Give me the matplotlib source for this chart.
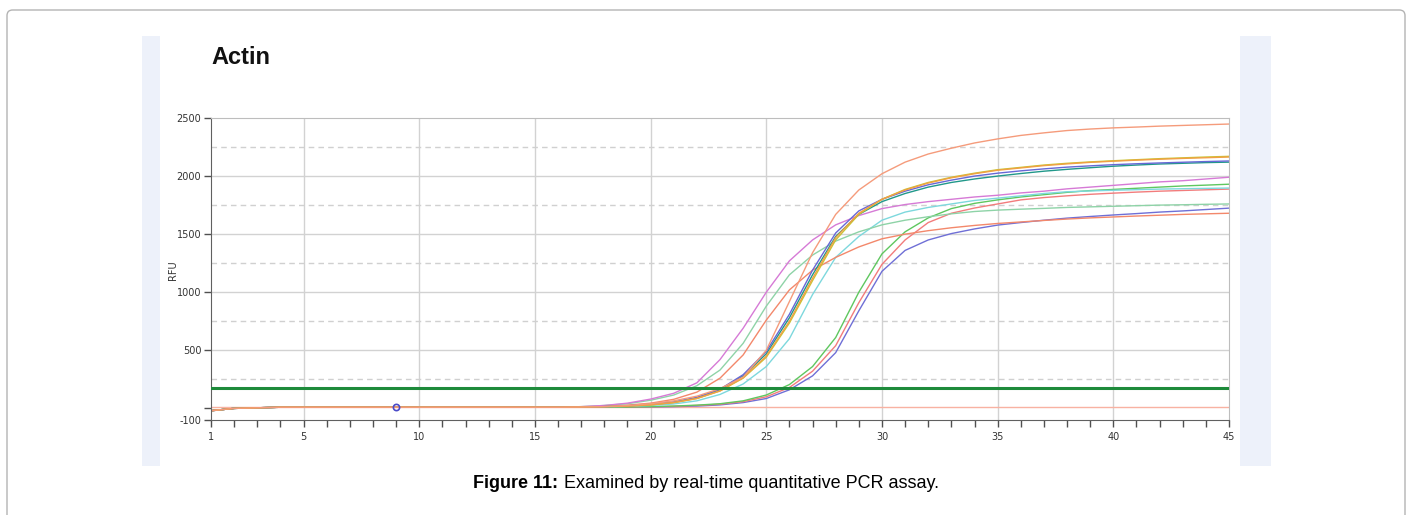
import matplotlib
matplotlib.use('Agg')
import matplotlib.pyplot as plt
from matplotlib.patches import Rectangle, FancyBboxPatch
import numpy as np

W, H = 1413, 515

cycles = np.arange(1, 46)
base = [-20, 0, 5, 10, 10, 10, 10, 10, 10, 10, 10, 10, 10, 10, 10, 10]

# amplification curves, RFU per cycle (cycles 17..45 after the flat baseline)
salmon_hi = base + [12, 15, 25, 40, 65, 105, 170, 270, 500, 920, 1340, 1670, 1880, 2020, 2120,
                    2190, 2240, 2285, 2320, 2350, 2372, 2392, 2405, 2415, 2422, 2430, 2436, 2442, 2448]
orange = base + [12, 15, 20, 30, 50, 85, 150, 265, 450, 750, 1120, 1470, 1680, 1800, 1880,
                 1940, 1985, 2020, 2050, 2070, 2090, 2105, 2118, 2128, 2137, 2145, 2152, 2158, 2164]
yellow = base + [12, 15, 20, 30, 50, 85, 150, 260, 440, 735, 1100, 1450, 1670, 1800, 1885,
                 1945, 1990, 2025, 2055, 2075, 2095, 2110, 2122, 2132, 2141, 2150, 2157, 2164, 2170]
blue = base + [12, 15, 22, 35, 55, 95, 165, 290, 490, 810, 1190, 1510, 1700, 1800, 1870,
               1925, 1965, 2000, 2025, 2045, 2062, 2077, 2088, 2098, 2106, 2113, 2119, 2125, 2130]
teal = base + [12, 15, 22, 33, 52, 90, 160, 280, 470, 780, 1150, 1480, 1670, 1780, 1850,
               1905, 1945, 1975, 2000, 2022, 2042, 2058, 2072, 2085, 2095, 2104, 2110, 2116, 2120]
magenta = base + [15, 25, 45, 80, 130, 220, 420, 690, 1000, 1270, 1450, 1580, 1660, 1720, 1755,
                  1780, 1800, 1820, 1835, 1855, 1870, 1890, 1905, 1920, 1935, 1950, 1960, 1975, 1990]
seafoam = base + [15, 25, 40, 70, 115, 195, 330, 560, 880, 1150, 1320, 1440, 1520, 1580, 1620,
                  1650, 1675, 1695, 1707, 1715, 1722, 1730, 1735, 1740, 1745, 1750, 1753, 1757, 1760]
salmon_lo = base + [12, 18, 28, 45, 78, 140, 260, 460, 760, 1020, 1190, 1300, 1390, 1460, 1500,
                    1530, 1555, 1575, 1592, 1605, 1618, 1630, 1640, 1648, 1656, 1663, 1670, 1675, 1680]
cyan = base + [12, 14, 18, 25, 38, 65, 120, 210, 360, 600, 980, 1300, 1480, 1620, 1690,
               1730, 1760, 1790, 1810, 1830, 1850, 1865, 1872, 1878, 1883, 1888, 1891, 1894, 1897]
green_late = base + [10, 10, 12, 15, 20, 28, 40, 65, 115, 205, 360, 610, 1000, 1330, 1520,
                     1640, 1720, 1765, 1795, 1820, 1840, 1860, 1875, 1885, 1895, 1905, 1915, 1922, 1930]
red_late = base + [10, 10, 12, 14, 18, 25, 36, 58, 100, 180, 320, 540, 910, 1240, 1450,
                   1600, 1680, 1725, 1760, 1795, 1815, 1830, 1843, 1853, 1862, 1870, 1876, 1882, 1888]
blue_late = base + [10, 10, 10, 12, 15, 20, 30, 50, 85, 160, 280, 480, 840, 1180, 1360,
                    1450, 1505, 1545, 1578, 1600, 1620, 1638, 1652, 1665, 1677, 1690, 1700, 1712, 1724]
neg_ctrl = [10, 10, 10, 10, 10, 10, 10, 10, 10, 10, 10, 10, 10, 10, 10, 10, 10, 10, 10, 10, 10, 10, 10,
            10, 10, 10, 10, 10, 10, 10, 10, 10, 10, 10, 10, 10, 10, 10, 10, 10, 10, 10, 10, 10, 10]

threshold = 175
marker_cycle = [9]
marker_rfu = [10]

series = [
    (neg_ctrl, '#f8b2a2'),
    (blue_late, '#6f6fd6'),
    (red_late, '#f27c7c'),
    (green_late, '#5fc75f'),
    (cyan, '#7dd8dd'),
    (salmon_lo, '#f3886b'),
    (seafoam, '#8ed3a7'),
    (magenta, '#d67ad6'),
    (teal, '#21988a'),
    (blue, '#6767d6'),
    (yellow, '#c9c534'),
    (orange, '#f19f45'),
    (salmon_hi, '#f59b7b'),
]

fig = plt.figure(figsize=(W / 100, H / 100), dpi=100)
fig.patch.set_facecolor('white')

# outer frame and the pale side strips
fig.patches.append(FancyBboxPatch((7 / W, -0.05), (1405 - 7) / W, 1.05 - 10 / H,
                                  boxstyle='round,pad=0,rounding_size=0.004',
                                  mutation_aspect=W / H, transform=fig.transFigure,
                                  facecolor='none', edgecolor='#b4b4b4', lw=1.0))
for x0, x1 in [(142, 160), (1240, 1271)]:
    fig.patches.append(Rectangle((x0 / W, (H - 466) / H), (x1 - x0) / W, (466 - 36) / H,
                                 transform=fig.transFigure, facecolor='#edf1fa',
                                 edgecolor='none'))

ax = fig.add_axes([211 / W, (H - 420) / H, (1229 - 211) / W, (420 - 118) / H])
ax.set_xlim(1, 45)
ax.set_ylim(-100, 2500)

for x in range(5, 45, 5):
    ax.axvline(x, color='#d2d2d2', lw=1.0, zorder=0)
for y in range(500, 2500, 500):
    ax.axhline(y, color='#d2d2d2', lw=1.0, zorder=0)
for y in range(250, 2500, 500):
    ax.axhline(y, color='#d0d0d0', lw=1.0, dashes=(4, 3), zorder=0)

for vals, col in series:
    ax.plot(cycles, vals, color=col, lw=1.0, zorder=2)

ax.axhline(threshold, color='#1d8a3a', lw=2.2, zorder=3)
ax.plot(marker_cycle, marker_rfu, 'o', ms=4.5, mfc='none', mec='#4a4ac8', mew=1.2, zorder=4)

ax.set_xticks([1, 5, 10, 15, 20, 25, 30, 35, 40, 45])
ax.set_xticks(cycles, minor=True)
ax.set_yticks([-100, 0, 500, 1000, 1500, 2000, 2500])
ax.set_yticklabels(['-100', '', '500', '1000', '1500', '2000', '2500'])
ax.tick_params(which='both', direction='out', length=5, width=1.0, color='#505050',
               labelsize=7, labelcolor='#333333')
ax.tick_params(axis='x', pad=4)
ax.tick_params(axis='y', pad=2)

for s in ['left', 'bottom']:
    ax.spines[s].set_color('#606060')
for s in ['top', 'right']:
    ax.spines[s].set_color('#bdbdbd')

fig.text(173 / W, 1 - 270 / H, 'RFU', rotation=90, fontsize=7, color='#333333',
         ha='center', va='center')

fig.text(211 / W, 1 - 58 / H, 'Actin', fontsize=17, fontweight='bold',
         family='Liberation Sans', va='center', ha='left', color='#111111')

# caption: bold label followed by plain text, centred as a whole
renderer = fig.canvas.get_renderer()
cap_y = 1 - 483 / H
t1 = fig.text(0, cap_y, 'Figure 11:', fontsize=13, fontweight='bold',
              family='Liberation Sans', va='center', ha='left')
t2 = fig.text(0, cap_y, ' Examined by real-time quantitative PCR assay.', fontsize=13,
              family='Liberation Sans', va='center', ha='left')
w1 = t1.get_window_extent(renderer).width
w2 = t2.get_window_extent(renderer).width
x0 = 706 - (w1 + w2) / 2
t1.set_x(x0 / W)
t2.set_x((x0 + w1) / W)

fig.savefig('out.png', dpi=100)
